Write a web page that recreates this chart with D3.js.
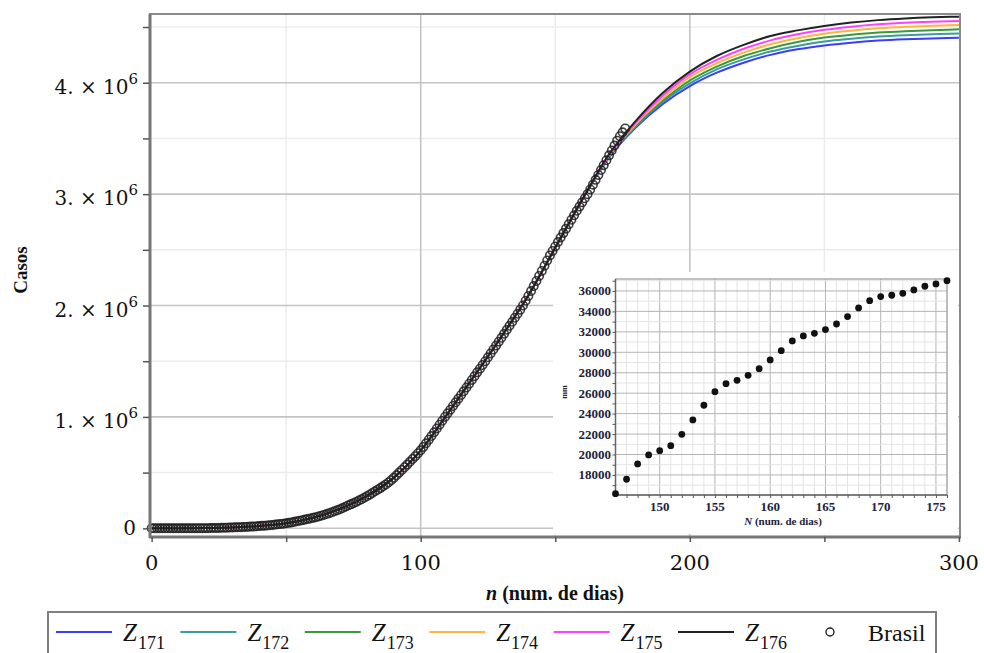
<!DOCTYPE html>
<html>
<head>
<meta charset="utf-8">
<script src="https://cdn.jsdelivr.net/npm/d3@7"></script>
<style>
  body { margin: 0; background: #fff; }
  svg { display: block; }
</style>
</head>
<body>
<div id="chart"></div>
<script>
// casos acumulados (milhares), dia 0..176
const brasilDays = d3.range(0, 177);
const brasilCases = [
  0, 0, 0, 0, 0, 0, 0, 0, 0, 0,
  0, 0, 0, 0.1, 0.1, 0.2, 0.3, 0.4, 0.6, 0.9,
  1.2, 1.6, 2.0, 2.5, 3.0, 3.7, 4.4, 5.2, 6.0, 7.0,
  7.8, 8.6, 9.5, 10.5, 11.6, 12.8, 14.0, 15.3, 16.7, 18.2,
  20.0, 21.9, 23.9, 26.0, 28.3, 30.7, 33.3, 36.1, 39.0, 42.0,
  45, 49, 53, 58, 63, 68, 73, 78, 83, 88,
  94, 100, 106, 113, 120, 128, 136, 144, 153, 162,
  172, 182, 193, 205, 215, 226, 237, 249, 261, 274,
  288, 302, 317, 332, 346, 361, 377, 394, 412, 432,
  453, 476, 500, 524, 548, 572, 597, 622, 648, 674,
  700, 731, 763, 795, 828, 862, 896, 930, 965, 1000,
  1032, 1065, 1098, 1131, 1164, 1197, 1230, 1264, 1298, 1332,
  1366, 1400, 1433, 1466, 1500, 1535, 1570, 1605, 1640, 1675,
  1710, 1746, 1782, 1818, 1854, 1890, 1926, 1963, 2000, 2043,
  2086, 2130, 2175, 2220, 2265, 2310, 2357, 2404, 2450, 2490,
  2530, 2570, 2610, 2650, 2690, 2730, 2770, 2810, 2850, 2888,
  2926, 2963, 3000, 3042, 3085, 3128, 3172, 3216, 3260, 3304,
  3348, 3392, 3436, 3480, 3520, 3555, 3590
];

// curvas ajustadas (milhões), lidas a cada 10 dias
const curveDays = d3.range(0, 301, 10);
const earlyPart = [0, 0, 0.002, 0.008, 0.02, 0.045, 0.095, 0.175, 0.29, 0.455,
                   0.70, 1.03, 1.37, 1.72, 2.09, 2.52, 2.95];
const z171 = earlyPart.concat([3.33, 3.60, 3.81, 3.97, 4.09, 4.18, 4.25, 4.30, 4.335, 4.36, 4.378, 4.39, 4.398, 4.404]);
const z172 = earlyPart.concat([3.335, 3.61, 3.83, 3.995, 4.12, 4.21, 4.28, 4.33, 4.37, 4.395, 4.414, 4.427, 4.436, 4.443]);
const z173 = earlyPart.concat([3.34, 3.62, 3.84, 4.02, 4.145, 4.24, 4.31, 4.365, 4.405, 4.43, 4.45, 4.463, 4.472, 4.479]);
const z174 = earlyPart.concat([3.345, 3.63, 3.86, 4.05, 4.175, 4.27, 4.345, 4.40, 4.44, 4.467, 4.488, 4.502, 4.511, 4.518]);
const z175 = earlyPart.concat([3.35, 3.645, 3.885, 4.075, 4.205, 4.305, 4.38, 4.435, 4.475, 4.503, 4.524, 4.539, 4.548, 4.554]);
const z176 = earlyPart.concat([3.36, 3.66, 3.91, 4.10, 4.24, 4.34, 4.42, 4.47, 4.51, 4.54, 4.562, 4.577, 4.587, 4.593]);

const seriesNames = ['171', '172', '173', '174', '175', '176'];
const seriesValues = [z171, z172, z173, z174, z175, z176];
const seriesColors = ['#3c3cff', '#3a9c9c', '#3a9a3a', '#ffb43c', '#ff40ff', '#222222'];

// detalhe (dias 146..176)
const insetDays = d3.range(146, 177);
const insetValues = [
  16170, 17580, 19080, 19960, 20380, 20870, 21980, 23380, 24820, 26150,
  26930, 27260, 27750, 28400, 29250, 30160, 31110, 31600, 31860, 32220,
  32770, 33490, 34340, 35050, 35450, 35580, 35770, 36100, 36460, 36690, 37010
];
const insetYTicks = [18000, 20000, 22000, 24000, 26000, 28000, 30000, 32000, 34000, 36000];
const insetXTicks = [150, 155, 160, 165, 170, 175];

const mainXTicks = [0, 100, 200, 300];
const mainYTicks = [0, 1, 2, 3, 4];

const serif = 'Liberation Serif, Times New Roman, serif';

const width = 984, height = 653;
const svg = d3.select('#chart').append('svg')
  .attr('width', width).attr('height', height);

const x = d3.scaleLinear().domain([-0.6, 300.4]).range([150, 960]);
const y = d3.scaleLinear().domain([-0.078, 4.617]).range([537, 14]);

// grade
svg.append('g').selectAll('line')
  .data(d3.range(50, 300, 100))
  .enter().append('line')
  .attr('x1', d => x(d)).attr('x2', d => x(d))
  .attr('y1', 14).attr('y2', 537)
  .attr('stroke', '#ececec').attr('stroke-width', 1.5);
svg.append('g').selectAll('line')
  .data(d3.range(0.5, 4.6, 1))
  .enter().append('line')
  .attr('x1', 150).attr('x2', 960)
  .attr('y1', d => y(d)).attr('y2', d => y(d))
  .attr('stroke', '#ececec').attr('stroke-width', 1.5);
svg.append('g').selectAll('line')
  .data([100, 200])
  .enter().append('line')
  .attr('x1', d => x(d)).attr('x2', d => x(d))
  .attr('y1', 14).attr('y2', 537)
  .attr('stroke', '#c4c4c4').attr('stroke-width', 1.6);
svg.append('g').selectAll('line')
  .data(mainYTicks)
  .enter().append('line')
  .attr('x1', 150).attr('x2', 960)
  .attr('y1', d => y(d)).attr('y2', d => y(d))
  .attr('stroke', '#c4c4c4').attr('stroke-width', 1.6);

// curvas
const line = d3.line()
  .x((d, i) => x(curveDays[i]))
  .y(d => y(d))
  .curve(d3.curveMonotoneX);

seriesValues.forEach((vals, k) => {
  svg.append('path')
    .attr('d', line(vals))
    .attr('fill', 'none')
    .attr('stroke', seriesColors[k])
    .attr('stroke-width', 2);
});

// Brasil
svg.append('g').selectAll('circle')
  .data(brasilCases)
  .enter().append('circle')
  .attr('cx', (d, i) => x(brasilDays[i]))
  .attr('cy', d => y(d / 1000))
  .attr('r', 4.2)
  .attr('fill', 'none')
  .attr('stroke', '#1e1e1e')
  .attr('stroke-opacity', 0.85)
  .attr('stroke-width', 1.6);

// moldura e eixos
svg.append('rect')
  .attr('x', 150).attr('y', 14).attr('width', 810).attr('height', 523)
  .attr('fill', 'none').attr('stroke', '#8a8a8a').attr('stroke-width', 2);
svg.append('line').attr('x1', 150).attr('x2', 150).attr('y1', 14).attr('y2', 538)
  .attr('stroke', '#777').attr('stroke-width', 3);
svg.append('line').attr('x1', 149).attr('x2', 961).attr('y1', 537).attr('y2', 537)
  .attr('stroke', '#777').attr('stroke-width', 3);

// inset fundo
svg.append('rect')
  .attr('x', 553).attr('y', 272).attr('width', 405).attr('height', 262)
  .attr('fill', '#fff');

const yAxis = d3.axisLeft(y).tickValues(d3.range(0, 4.6, 0.5)).tickSize(6).tickFormat('');
svg.append('g').attr('transform', 'translate(149,0)').call(yAxis)
  .call(g => g.select('.domain').remove())
  .call(g => g.selectAll('line').attr('stroke', '#555').attr('stroke-width', 1.5));
const xAxis = d3.axisBottom(x).tickValues(d3.range(0, 301, 50)).tickSize(5).tickFormat('');
svg.append('g').attr('transform', 'translate(0,537)').call(xAxis)
  .call(g => g.select('.domain').remove())
  .call(g => g.selectAll('line').attr('stroke', '#555').attr('stroke-width', 1.5));

// rótulos eixo y
const yLab = svg.append('g').selectAll('text')
  .data(mainYTicks)
  .enter().append('text')
  .attr('font-family', 'DejaVu Serif')
  .attr('font-size', 20)
  .attr('fill', '#111')
  .attr('text-anchor', 'end');
yLab.filter(d => d === 0)
  .attr('x', 136).attr('y', d => y(d) + 7).text('0');
yLab.filter(d => d !== 0)
  .attr('x', 138).attr('y', d => y(d) + 11)
  .each(function(d) {
    const t = d3.select(this);
    t.append('tspan').text(d + '. × 10');
    t.append('tspan').attr('font-size', 15).attr('dy', -10).text('6');
  });

svg.append('g').selectAll('text')
  .data(mainXTicks)
  .enter().append('text')
  .attr('x', d => x(d)).attr('y', 570)
  .attr('text-anchor', 'middle')
  .attr('font-family', 'DejaVu Serif')
  .attr('font-size', 21)
  .attr('fill', '#111')
  .text(d => d);

const xTitle = svg.append('text')
  .attr('x', 555).attr('y', 600)
  .attr('text-anchor', 'middle')
  .attr('font-family', serif)
  .attr('font-weight', 'bold')
  .attr('font-size', 20)
  .attr('fill', '#111');
xTitle.append('tspan').attr('font-style', 'italic').text('n');
xTitle.append('tspan').text(' (num. de dias)');

svg.append('text')
  .attr('transform', 'translate(27,270) rotate(-90)')
  .attr('text-anchor', 'middle')
  .attr('font-family', serif)
  .attr('font-weight', 'bold')
  .attr('font-size', 19)
  .attr('fill', '#111')
  .text('Casos');

// inset
const ix = d3.scaleLinear().domain([146, 176]).range([615.5, 947]);
const iy = d3.scaleLinear().domain([16040, 37170]).range([495, 279]);
const inset = svg.append('g');

inset.append('g').selectAll('line')
  .data(d3.range(147, 177))
  .enter().append('line')
  .attr('x1', d => ix(d)).attr('x2', d => ix(d)).attr('y1', 279).attr('y2', 495)
  .attr('stroke', d => d % 5 === 0 ? '#b4b4b4' : '#e4e4e4')
  .attr('stroke-width', 1);
inset.append('g').selectAll('line')
  .data(d3.range(17000, 37001, 1000))
  .enter().append('line')
  .attr('x1', 615.5).attr('x2', 947).attr('y1', d => iy(d)).attr('y2', d => iy(d))
  .attr('stroke', d => d % 2000 === 0 ? '#b4b4b4' : '#e4e4e4')
  .attr('stroke-width', 1);

inset.append('rect')
  .attr('x', 615.5).attr('y', 279).attr('width', 331.5).attr('height', 216)
  .attr('fill', 'none').attr('stroke', '#999').attr('stroke-width', 1.2);
inset.append('line').attr('x1', 615.5).attr('x2', 615.5).attr('y1', 279).attr('y2', 495)
  .attr('stroke', '#666').attr('stroke-width', 1.4);
inset.append('line').attr('x1', 615.5).attr('x2', 947).attr('y1', 495).attr('y2', 495)
  .attr('stroke', '#666').attr('stroke-width', 1.4);

inset.append('g').attr('transform', 'translate(615.5,0)')
  .call(d3.axisLeft(iy).tickValues(d3.range(17000, 37001, 1000)).tickSize(3).tickFormat(''))
  .call(g => g.select('.domain').remove())
  .call(g => g.selectAll('line').attr('stroke', '#555'));
inset.append('g').attr('transform', 'translate(0,495)')
  .call(d3.axisBottom(ix).tickValues(d3.range(147, 177)).tickSize(3).tickFormat(''))
  .call(g => g.select('.domain').remove())
  .call(g => g.selectAll('line').attr('stroke', '#555'));

inset.append('g').selectAll('text')
  .data(insetYTicks)
  .enter().append('text')
  .attr('x', 611).attr('y', d => iy(d) + 4.5)
  .attr('text-anchor', 'end')
  .attr('font-family', serif)
  .attr('font-weight', 'bold')
  .attr('font-size', 13)
  .attr('fill', '#22223a')
  .text(d => d);
inset.append('g').selectAll('text')
  .data(insetXTicks)
  .enter().append('text')
  .attr('x', d => ix(d)).attr('y', 511)
  .attr('text-anchor', 'middle')
  .attr('font-family', serif)
  .attr('font-weight', 'bold')
  .attr('font-size', 13)
  .attr('fill', '#22223a')
  .text(d => d);

const ixTitle = inset.append('text')
  .attr('x', 783).attr('y', 525)
  .attr('text-anchor', 'middle')
  .attr('font-family', serif)
  .attr('font-weight', 'bold')
  .attr('font-size', 11)
  .attr('fill', '#22223a');
ixTitle.append('tspan').attr('font-style', 'italic').text('N');
ixTitle.append('tspan').text(' (num. de dias)');

inset.append('text')
  .attr('transform', 'translate(567,392) rotate(-90)')
  .attr('text-anchor', 'middle')
  .attr('font-family', serif)
  .attr('font-weight', 'bold')
  .attr('font-size', 8)
  .attr('fill', '#22223a')
  .text('mm');

inset.append('g').selectAll('circle')
  .data(insetValues)
  .enter().append('circle')
  .attr('cx', (d, i) => ix(insetDays[i]))
  .attr('cy', d => iy(d))
  .attr('r', 3.4)
  .attr('fill', '#111');

// legenda
svg.append('rect')
  .attr('x', 48).attr('y', 612).attr('width', 888).attr('height', 50)
  .attr('fill', '#fff').attr('stroke', '#808080').attr('stroke-width', 2);

const legend = svg.selectAll('.legend')
  .data(seriesNames)
  .enter().append('g')
  .attr('class', 'legend')
  .attr('transform', (d, i) => `translate(${56 + i * 124.4},632)`);
legend.append('line')
  .attr('x1', 0).attr('x2', 56).attr('y1', 0).attr('y2', 0)
  .attr('stroke', (d, i) => seriesColors[i]).attr('stroke-width', 2.2);
const legText = legend.append('text')
  .attr('x', 67).attr('y', 9)
  .attr('font-family', serif)
  .attr('font-size', 25)
  .attr('fill', '#111');
legText.append('tspan').attr('font-style', 'italic').text('Z');
legText.append('tspan').attr('font-size', 18).attr('dy', 8).attr('dx', 1).text(d => d);

svg.append('circle')
  .attr('cx', 830).attr('cy', 632).attr('r', 4)
  .attr('fill', 'none').attr('stroke', '#222').attr('stroke-width', 1.4);
svg.append('text')
  .attr('x', 868).attr('y', 641)
  .attr('font-family', serif)
  .attr('font-size', 24)
  .attr('fill', '#111')
  .text('Brasil');
</script>
</body>
</html>
